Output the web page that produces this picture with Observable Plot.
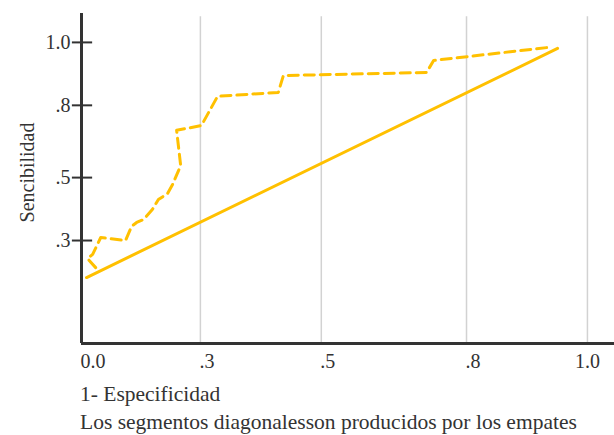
<!DOCTYPE html>
<html>
<head>
<meta charset="utf-8">
<script src="https://cdn.jsdelivr.net/npm/d3@7"></script>
<script src="https://cdn.jsdelivr.net/npm/@observablehq/plot@0.6"></script>
<style>
  html, body { margin: 0; padding: 0; background: #fff; }
  #chart svg { display: block; }
  .cap { font-family: "Liberation Serif", serif; font-size: 21.5px; color: #333; margin-left: 80px; line-height: 28px; white-space: nowrap; }
</style>
</head>
<body>
<div id="chart"></div>
<div class="cap">1- Especificidad</div>
<div class="cap">Los segmentos diagonalesson producidos por los empates</div>
<script>
// Tick positions (data units) and their printed labels
const xTicks = [0, 0.235, 0.474, 0.761];
const xTickLabels = ["0.0", ".3", ".5", ".8"];
const xLastTick = [1.0];
const xLastLabel = ["1.0"];
const xGrid = [0.235, 0.474, 0.761, 1.0];
const yTicks = [0.342, 0.551, 0.791, 1.0];
const yTickLabels = [".3", ".5", ".8", "1.0"];

// Reference (diagonal) line
const refX = [0.010, 0.941];
const refY = [0.219, 0.980];

// ROC curve (dashed)
const rocX = [0.028, 0.012, 0.022, 0.038, 0.087, 0.099, 0.109, 0.123, 0.140, 0.152, 0.170, 0.180, 0.192, 0.196, 0.188, 0.237, 0.269, 0.389, 0.399, 0.682, 0.696, 0.921];
const rocY = [0.252, 0.282, 0.296, 0.352, 0.342, 0.389, 0.402, 0.412, 0.445, 0.478, 0.498, 0.528, 0.575, 0.591, 0.708, 0.724, 0.821, 0.834, 0.890, 0.900, 0.940, 0.983];

const ref = refX.map((x, i) => ({x, y: refY[i]}));
const roc = rocX.map((x, i) => ({x, y: rocY[i]}));

const font = "Liberation Serif, serif";
const ink = "#333";
const amber = "#FFC000";

const chart = Plot.plot({
  width: 614,
  height: 380,
  marginLeft: 81,
  marginRight: 0,
  marginTop: 13,
  marginBottom: 37,
  style: {fontFamily: font, color: ink, background: "#fff"},
  x: {domain: [0, 1.0535]},
  y: {domain: [0, 1.096]},
  marks: [
    Plot.ruleX(xGrid, {y1: 0, y2: 1.085, stroke: "#d2d2d2", strokeWidth: 1.5}),
    Plot.line(ref, {x: "x", y: "y", stroke: amber, strokeWidth: 3}),
    Plot.line(roc, {x: "x", y: "y", stroke: amber, strokeWidth: 3, strokeDasharray: "10,6"}),
    Plot.ruleY([0], {stroke: ink, strokeWidth: 3}),
    Plot.ruleX([0], {y1: 0, y2: 1.096, stroke: ink, strokeWidth: 3}),
    Plot.ruleY(yTicks, {x1: -0.018, x2: 0.022, stroke: ink, strokeWidth: 2}),
    Plot.axisY({ticks: yTicks, tickFormat: (d, i) => yTickLabels[i], tickSize: 0, tickPadding: 11, fontSize: 20, label: null}),
    Plot.axisX({ticks: xTicks, tickFormat: (d, i) => xTickLabels[i], tickSize: 0, tickPadding: 10, fontSize: 20, textAnchor: "start", dx: -1, label: null}),
    Plot.axisX({ticks: xLastTick, tickFormat: (d, i) => xLastLabel[i], tickSize: 0, tickPadding: 10, fontSize: 20, label: null}),
    Plot.text(["Sencibilidad"], {frameAnchor: "left", textAnchor: "middle", dx: -54, dy: -6, rotate: -90, fontSize: 20, fill: ink, fontFamily: font})
  ]
});
document.getElementById("chart").append(chart);
</script>
</body>
</html>
